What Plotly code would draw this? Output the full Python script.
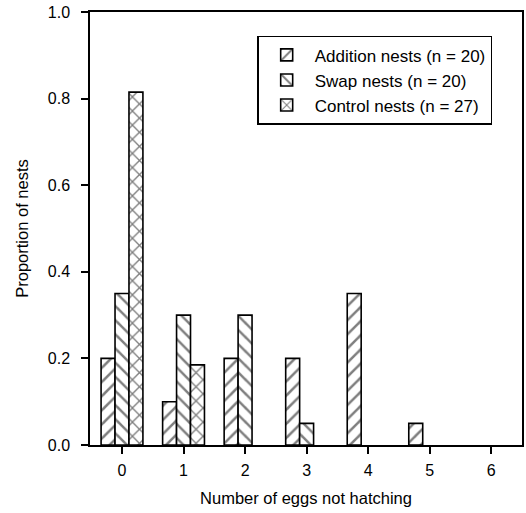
import plotly.graph_objects as go

categories = [0, 1, 2, 3, 4, 5, 6]
addition = [0.20, 0.10, 0.20, 0.20, 0.35, 0.05, 0.0]
swap = [0.35, 0.30, 0.30, 0.05, 0.0, 0.0, 0.0]
control = [0.815, 0.185, 0.0, 0.0, 0.0, 0.0, 0.0]
names = ["Addition nests (n = 20)", "Swap nests (n = 20)", "Control nests (n = 27)"]
shapes = ["/", "\\", "x"]

fig = go.Figure()
for vals, name, shp in zip([addition, swap, control], names, shapes):
    widths = [1.6 if v > 0 else 0 for v in vals]
    fig.add_trace(go.Bar(
        x=categories, y=vals, name=name,
        marker=dict(color="white", line=dict(color="black", width=widths),
                    pattern=dict(shape=shp, fgcolor="black", bgcolor="white",
                                 size=10, solidity=0.25, fillmode="overlay")),
    ))

fam = "Liberation Sans, Arial, sans-serif"
font = dict(family=fam, size=16, color="black")
fig.update_layout(
    width=526, height=513,
    margin=dict(l=90, r=4, t=12, b=68),
    paper_bgcolor="white", plot_bgcolor="white",
    barmode="group", bargap=0.32, bargroupgap=0,
    font=font,
    legend=dict(x=0.387, y=0.945, xanchor="left", yanchor="top",
                bordercolor="black", borderwidth=1.5, bgcolor="white",
                font=dict(family=fam, size=17, color="black"),
                tracegroupgap=0, itemwidth=46),
    xaxis=dict(range=[-0.52, 6.5], tickmode="array", tickvals=categories,
               ticktext=[str(c) for c in categories],
               showline=True, linecolor="black", linewidth=1.5, mirror=True,
               ticks="outside", ticklen=7, tickwidth=1.5, tickcolor="black",
               tickfont=dict(family=fam, size=16, color="black"),
               ticklabelstandoff=3,
               showgrid=False, zeroline=False, automargin=False,
               title=dict(text="Number of eggs not hatching", standoff=14,
                          font=dict(family=fam, size=16.5, color="black"))),
    yaxis=dict(range=[0, 1.0], tickmode="array",
               tickvals=[0, 0.2, 0.4, 0.6, 0.8, 1.0],
               ticktext=["0.0", "0.2", "0.4", "0.6", "0.8", "1.0"],
               showline=True, linecolor="black", linewidth=1.5, mirror=True,
               ticks="outside", ticklen=7, tickwidth=1.5, tickcolor="black",
               tickfont=dict(family=fam, size=16, color="black"),
               ticklabelstandoff=8,
               showgrid=False, zeroline=False, automargin=False,
               title=dict(text="Proportion of nests", standoff=15,
                          font=dict(family=fam, size=16.5, color="black"))),
)

fig.write_html("out.html", config={"displayModeBar": False},
               post_script="document.body.style.margin='0';document.body.style.overflow='hidden';")
